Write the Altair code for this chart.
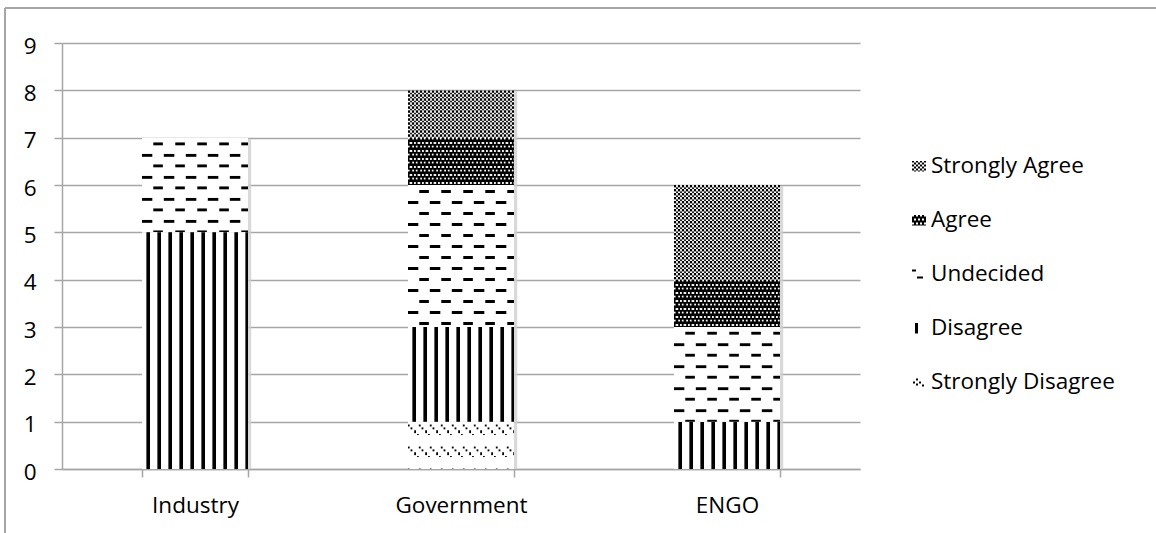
import base64

import altair as alt
import pandas as pd

# ---- data -------------------------------------------------------------
groups = ["Industry", "Government", "ENGO"]
responses = ["Strongly Disagree", "Disagree", "Undecided", "Agree", "Strongly Agree"]
industry = [0, 5, 2, 0, 0]
government = [1, 2, 3, 1, 1]
engo = [0, 1, 2, 1, 2]
y_ticks = [0, 1, 2, 3, 4, 5, 6, 7, 8, 9]
legend_order = ["Strongly Agree", "Agree", "Undecided", "Disagree", "Strongly Disagree"]

FONT = "Open Sans"
FONT_SIZE = 22.5
GREY = "#a6a6a6"


# ---- hatch fills (small SVG tiles used as image fills) -----------------
def pattern_uri(w, h, body):
    svg = (
        '<svg xmlns="http://www.w3.org/2000/svg" shape-rendering="crispEdges">'
        f'<defs><pattern id="p" width="{w}" height="{h}" patternUnits="userSpaceOnUse">'
        f'<rect width="{w}" height="{h}" fill="#fff"/>{body}</pattern></defs>'
        '<rect width="100%" height="100%" fill="url(#p)"/></svg>'
    )
    return "data:image/svg+xml;base64," + base64.b64encode(svg.encode()).decode()


fills = {
    "Strongly Disagree": pattern_uri(
        11, 22,
        '<rect x="0" y="3" width="2" height="2" fill="#000"/>'
        '<rect x="3" y="6" width="2" height="2" fill="#000"/>'
        '<rect x="6" y="9" width="2" height="2" fill="#000"/>'
        '<rect x="9" y="12" width="2" height="1" fill="#000"/>',
    ),
    "Disagree": pattern_uri(11, 11, '<rect x="5" y="0" width="3" height="11" fill="#000"/>'),
    "Undecided": pattern_uri(
        22, 22,
        '<rect x="11" y="5" width="10.5" height="3" fill="#000"/>'
        '<rect x="0" y="16" width="10.5" height="3" fill="#000"/>',
    ),
    "Agree": pattern_uri(
        8, 8,
        '<rect width="8" height="8" fill="#000"/>'
        '<rect x="0" y="0" width="2" height="2" fill="#fff"/>'
        '<rect x="4" y="0" width="2" height="2" fill="#fff"/>'
        '<rect x="2" y="4" width="2" height="2" fill="#fff"/>'
        '<rect x="6" y="4" width="2" height="2" fill="#fff"/>',
    ),
    "Strongly Agree": pattern_uri(
        4, 4,
        '<rect x="0" y="0" width="2" height="2" fill="#000"/>'
        '<rect x="2" y="2" width="2" height="2" fill="#000"/>',
    ),
}

# smaller swatches for the legend keys
swatches = dict(fills)
swatches["Undecided"] = pattern_uri(
    14, 11,
    '<rect x="0" y="1" width="4" height="2" fill="#000"/>'
    '<rect x="5" y="8" width="6" height="2" fill="#000"/>',
)
swatches["Disagree"] = pattern_uri(14, 11, '<rect x="3" y="0" width="3" height="11" fill="#000"/>')
swatches["Strongly Disagree"] = pattern_uri(
    14, 11,
    '<rect x="1" y="5" width="2" height="2" fill="#000"/>'
    '<rect x="4" y="2" width="2" height="2" fill="#000"/>'
    '<rect x="4" y="7" width="2" height="2" fill="#000"/>'
    '<rect x="7" y="5" width="2" height="2" fill="#000"/>'
    '<rect x="10" y="8" width="2" height="2" fill="#000"/>',
)

# ---- long table --------------------------------------------------------
rows = []
for g, vals in zip(groups, [industry, government, engo]):
    for r, v in zip(responses, vals):
        if v > 0:
            rows.append({"group": g, "response": r, "count": v, "rank": responses.index(r)})
df = pd.DataFrame(rows)
legend_df = pd.DataFrame({"response": legend_order})

x_enc = alt.X(
    "group:N",
    sort=groups,
    title=None,
    scale=alt.Scale(paddingInner=0.6, paddingOuter=0.3),
    axis=alt.Axis(
        tickBand="extent",
        tickSize=8,
        tickColor=GREY,
        tickWidth=1.5,
        domainColor=GREY,
        domainWidth=1.5,
        labelFont=FONT,
        labelFontSize=FONT_SIZE,
        labelColor="#000",
        labelPadding=17,
        labelAngle=0,
        grid=False,
    ),
)
y_enc = alt.Y(
    "y1:Q",
    title=None,
    scale=alt.Scale(domain=[0, 9], nice=False),
    axis=alt.Axis(
        values=y_ticks,
        format="d",
        grid=True,
        gridColor=GREY,
        gridWidth=1.5,
        domainColor=GREY,
        domainWidth=1.5,
        tickColor=GREY,
        tickWidth=1.5,
        tickSize=8,
        labelFont=FONT,
        labelFontSize=FONT_SIZE,
        labelColor="#000",
        labelPadding=18,
        labelOffset=3,
    ),
)

stacked = alt.Chart(df).transform_stack(
    stack="count",
    groupby=["group"],
    as_=["y0", "y1"],
    sort=[alt.SortField("rank", order="ascending")],
)

# soft drop shadow behind each column
shadow = (
    stacked.transform_aggregate(y1="max(y1)", groupby=["group"])
    .transform_calculate(y0="0")
    .mark_bar(color="#d0d0d0", opacity=0.8, xOffset=3, yOffset=1)
    .encode(x=x_enc, y=y_enc, y2="y0:Q")
)

segments = [
    stacked.transform_filter(alt.datum.response == r)
    .mark_image(url=fills[r], aspect=False)
    .encode(x=x_enc, y=y_enc, y2="y0:Q")
    for r in responses
]

main = alt.layer(shadow, *segments)

# outer border lines
frame_top = alt.Chart(legend_df).mark_rule(color=GREY, strokeWidth=1.5).encode(
    x=alt.value(-57), x2=alt.value(1094), y=alt.value(-35)
)
frame_left = alt.Chart(legend_df).mark_rule(color=GREY, strokeWidth=1.5).encode(
    x=alt.value(-57), y=alt.value(-35), y2=alt.value(490)
)

# legend
leg_y = alt.Y(
    "response:N",
    sort=legend_order,
    scale=alt.Scale(type="point", range=[123, 339], padding=0),
    axis=None,
)
legend_layers = [
    alt.Chart(legend_df)
    .transform_filter(alt.datum.response == r)
    .mark_image(url=swatches[r], aspect=False, width=14, height=11)
    .encode(x=alt.value(857), y=leg_y)
    for r in legend_order
]
legend_text = (
    alt.Chart(legend_df)
    .mark_text(align="left", baseline="middle", font=FONT, fontSize=FONT_SIZE, color="#000")
    .encode(x=alt.value(869), y=leg_y, text="response:N")
)
legend = alt.layer(*legend_layers, legend_text)

chart = (
    alt.layer(frame_top, frame_left, main, legend)
    .resolve_scale(y="independent")
    .properties(
        width=798,
        height=426,
        padding={"left": 62, "top": 43, "right": 296, "bottom": 64},
        autosize=alt.AutoSizeParams(type="none"),
        background="white",
    )
    .configure_view(stroke=None)
)

chart.save("out.html", embed_options={"renderer": "svg", "actions": False})
